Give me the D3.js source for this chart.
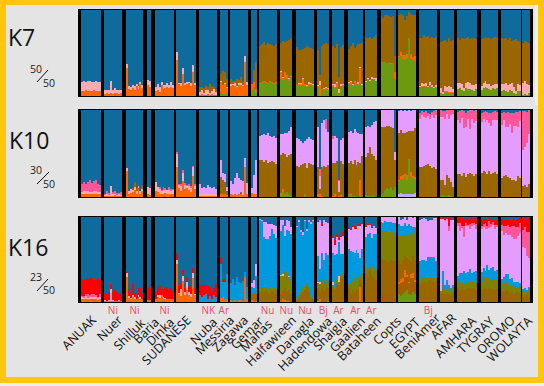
<!DOCTYPE html>
<html><head><meta charset="utf-8">
<script src="https://cdn.jsdelivr.net/npm/d3@7/dist/d3.min.js"></script>
<style>html,body{margin:0;padding:0;background:#eee;overflow:hidden}svg{display:block}text{font-family:"Open Sans",sans-serif}</style>
</head><body><svg id="c" width="544" height="386"></svg>
<script>
// ---------- categories ----------
const populations=["ANUAK","Nuer","Shilluk","Baria","Dinka","SUDANESE","Nuba","Messiria","Zagawa","Gemar","Mahas","Halfawieen","Danagla","Hadendowa","Shaigia","Gaalien","Bataheen","Copts","EGYPT","BeniAmer","AFAR","AMHARA","TYGRAY","OROMO","WOLAYTA"];
const sampleColumns=[10,9,9,2,10,10,9,4,9,3,9,6,9,6,6,8,6,8,9,9,7,10,9,10,4];
const groupTags=["","Ni","Ni","","Ni","","NK","Ar","","","Nu","Nu","Nu","Bj","Ar","Ar","Ar","","","Bj","","","","",""];
const panelNames=["K7","K10","K16"];
const panelRatios=[["50","50"],["30","50"],["23","50"]];
// ---------- K7 (percent of each individual) ----------
const k7Green={Messiria:[3,2,2,3],Gemar:[6,10,4],Mahas:[14,15,16,15,14,16,15,14,15],Halfawieen:[20,19,21,20,18,22],Danagla:[12,13,12,13,12,11,13,12,12],Hadendowa:[10,0,7,6,8,7],Shaigia:[10,9,11,3,10,12],Gaalien:[14,13,12,15,12,13,14,12],Bataheen:[16,19,18,20,19,18],Copts:[38,40,39,38,39,37,38,20],EGYPT:[45,47,43,42,44,68,43,42,41],BeniAmer:[10,11,12,11,10,12,11,9,10],AFAR:[3,2,4,5,4,3,4],AMHARA:[8,9,7,6,9,8,8,7,6,8],TYGRAY:[7,9,10,9,8,7,9,8,9],OROMO:[6,7,6,5,7,6,3,2,6,6],WOLAYTA:[1,2,1,3]};
const k7Orange={ANUAK:[6,6,7,6,6,6,7,6,6,6],Nuer:[2,3,2,3,2,3,3,2,3],Shilluk:[33,8,7,9,7,12,8,14,9],Baria:[13,10],Dinka:[6,7,5,13,8,9,10,9,11,9],SUDANESE:[42,14,12,26,13,14,15,12,28,13],Nuba:[1,2,1,1,2,1,2,1,1],Messiria:[13,11,12,6],Zagawa:[12,13,12,11,13,13,12,40,13],Gemar:[8,6,4],Mahas:[1,1,1,1,1,1,1,1,1],Halfawieen:[8,2,7,4,2,1],Danagla:[1,1,2,7,2,1,1,2,1],Hadendowa:[2,13,1,2,1,1],Shaigia:[3,2,4,1,2,1],Gaalien:[1,3,1,2,3,1,19,1],Bataheen:[0,1,0,0,1,0],Copts:[1,0,0,0,0,1,0,8],EGYPT:[2,4,5,6,5,0,6,3,5],BeniAmer:[0,1,0,1,0,1,0,0,1],AFAR:[1,0,2,1,1,2,1]};
const k7Pink={ANUAK:[10,11,9,11,11,10,9,11,10,10],Nuer:[5,4,5,14,5,6,4,5,4],Shilluk:[4,4,3,4,5,2,4,2,4],Baria:[6,7],Dinka:[4,7,5,3,5,4,5,4,5,4],SUDANESE:[9,1,3,6,2,2,1,3,8,2],Nuba:[4,5,3,6,5,3,4,7,4],Messiria:[2,0,1,1],Zagawa:[2,1,3,1,2,2,1,7,3],Halfawieen:[1,1,0,1,1,0],Danagla:[0,1,1,1,0,1,2,1,1],Hadendowa:[1,4,0,1,2,1],Shaigia:[1,3,1,4,2,1],Gaalien:[1,1,1,1,0,2,1,1],Bataheen:[2,1,1,2,1,3],BeniAmer:[2,3,2,3,2,3,2,1,2],AFAR:[5,3,6,4,7,5,3],AMHARA:[7,6,7,3,6,8,7,6,7,6],TYGRAY:[5,6,7,5,6,5,4,6,5],OROMO:[8,7,9,8,7,9,8,4,8,7],WOLAYTA:[14,16,13,10]};
const k7Blue={Nuba:[90,89,91,88,90,86,88,89,92],Messiria:[74,71,72,80],Zagawa:[80,83,82,80,81,78,82,53,84],Gemar:[88,70,61],Mahas:[42,40,37,41,38,40,41,42,40],Halfawieen:[38,36,37,36,35,33],Danagla:[43,47,46,45,44,42,43,44,45],Hadendowa:[46,76,42,39,38,40],Shaigia:[42,44,40,78,43,41],Gaalien:[45,42,38,44,42,40,39,38],Bataheen:[32,33,31,34,31,29],Copts:[7,9,6,6,7,8,7,53],EGYPT:[6,5,6,12,7,2,5,6,6],BeniAmer:[33,32,29,31,30,32,31,33,31],AFAR:[37,36,35,37,33,36,35],AMHARA:[33,35,32,34,33,31,34,33,32,34],TYGRAY:[34,33,31,33,32,34,33,31,33],OROMO:[33,34,32,35,33,36,35,34,36,37],WOLAYTA:[38,36,37,38]};
// ---------- K10 ----------
const k10Violet={EGYPT:[4,5,3,4,3,4,3,4,5]};
const k10Green={Halfawieen:[1,6,2,6,3,1],Danagla:[0,0,0,0,3,0,0,0,0],Gaalien:[3,2,1,1,1,0,1,0],Bataheen:[2,1,1,1,1,0],Copts:[3,3,8,10,9,11,8,12],EGYPT:[14,16,18,20,17,40,20,18,15],AFAR:[1,2,1,1,2,1,0]};
const k10Orange={ANUAK:[3,3,4,3,3,3,4,3,3,3],Nuer:[1,1,1,1,1,2,1,1,1],Shilluk:[30,4,5,6,8,4,10,3,7],Baria:[3,2],Dinka:[7,6,3,4,3,5,3,4,3,4],SUDANESE:[34,10,7,18,9,10,8,6,24,9],Nuba:[1,1,1,1,1,1,1,1,1],Messiria:[3,4,3,2],Zagawa:[3,2,3,2,3,4,2,35,3],Gemar:[5,4,3],Halfawieen:[4,3,1,0,0,0],Hadendowa:[3,4,1,0,0,0],Shaigia:[1,3,0,1,2,0],Gaalien:[1,1,0,0,0,0,18,0],EGYPT:[2,3,4,3,5,0,6,2,3]};
const k10Pink={ANUAK:[3,4,3,4,3,3,3,4,3,3],Nuer:[1,2,1,12,2,2,1,2,1],Shilluk:[3,3,4,2,3,3,3,4,2],Baria:[9,8],Dinka:[10,5,6,3,5,3,5,4,4,4],SUDANESE:[16,4,6,10,5,3,5,4,10,4],Nuba:[3,3,2,4,3,2,3,3,2]};
const k10Brown={Shilluk:[0,0,0,2,6,3,0,0,4],Messiria:[20,15,14,5],Zagawa:[0,0,0,0,0,2,0,0,0],Mahas:[42,43,40,42,39,40,41,40,38],Halfawieen:[43,42,46,40,45,49],Danagla:[36,34,37,38,36,33,39,38,37],Hadendowa:[32,5,33,36,35,37],Shaigia:[38,36,41,5,39,38],Gaalien:[35,38,37,41,36,40,20,47],Bataheen:[44,50,56,48,46,42],Copts:[77,78,72,72,73,70,71,30],EGYPT:[54,53,48,46,50,32,47,52,56],BeniAmer:[34,35,36,37,38,36,33,35,32],AFAR:[18,17,13,24,20,16,12],AMHARA:[26,27,24,28,23,26,28,27,24,26],TYGRAY:[28,30,29,26,30,27,28,29,26],OROMO:[22,24,25,23,22,20,19,18,24,22],WOLAYTA:[13,14,12,15]};
const k10Hot={ANUAK:[9,10,8,10,13,10,11,12,9,8],Nuer:[2,4,3,0,3,3,3,2,4],Dinka:[0,0,2,1,3,2,0,3,2,1],SUDANESE:[2,1,2,3,2,1,2,3,2,2],Hadendowa:[0,8,0,0,12,0],Shaigia:[3,0,0,2,0,0],BeniAmer:[7,5,6,8,4,5,4,8,6],AFAR:[8,7,9,5,10,6,5],AMHARA:[10,14,9,20,17,9,22,10,14,13],TYGRAY:[11,8,13,10,12,14,9,10,9],OROMO:[14,10,17,18,13,22,15,16,18,12],WOLAYTA:[45,42,36,28]};
const k10Blue={Nuba:[85,90,88,90,86,88,90,88,91],Messiria:[58,72,74,88],Zagawa:[82,85,78,72,78,80,82,55,84],Gemar:[90,75,58],Mahas:[30,29,28,29,27,30,31,30,32],Halfawieen:[28,28,27,26,24,20],Danagla:[32,33,36,38,36,33,31,33,34],Hadendowa:[20,68,15,12,10,25],Shaigia:[30,30,32,80,34,32],Gaalien:[25,24,26,22,25,26,28,28],Bataheen:[20,18,19,17,14,13],Copts:[0,0,0,0,0,0,0,48],EGYPT:[1,0,1,0,1,0,1,0,0],BeniAmer:[3,1,2,1,3,5,2,1,0],AFAR:[0,1,1,0,0,0,0],AMHARA:[2,1,0,1,3,1,0,0,1,0],TYGRAY:[3,2,1,2,3,4,2,1,2],OROMO:[3,2,3,2,3,4,3,2,2,1],WOLAYTA:[1,1,2,0]};
// ---------- K16 ----------
const k16Green={EGYPT:[9,7,10,12,14,10,8,12,9]};
const k16Rust={Copts:[10,9,8,10,11,9,10,3],EGYPT:[12,15,14,18,15,12,20,16,14]};
const k16Orange={ANUAK:[3,3,4,3,3,4,3,3,2,3],Nuer:[1,1,1,1,1,1,1,1,1],Shilluk:[30,5,4,6,4,3,6,4,3],Baria:[2,2],Dinka:[3,6,5,8,4,3,4,3,4,3],SUDANESE:[45,10,7,25,8,14,8,6,28,8],Messiria:[5,6,4,3],Zagawa:[2,1,2,1,2,2,1,30,3],Gemar:[2,1,1],Halfawieen:[1,3,2,1,1,0],Hadendowa:[1,3,0,0,0,1],Gaalien:[0,0,0,0,0,0,18,0],EGYPT:[3,5,4,8,3,2,5,6,3]};
const k16Brown={Gemar:[8,10,8],Mahas:[12,13,13,14,11,10,12,13,10],Halfawieen:[8,10,14,12,13,9],Danagla:[2,5,8,12,14,18,12,5,3],Hadendowa:[15,10,16,14,18,16],Shaigia:[18,15,22,20,28,30],Gaalien:[16,10,14,12,15,14,8,22],Bataheen:[34,30,38,32,28,26],Copts:[40,42,42,38,36,40,38,45],EGYPT:[26,18,22,16,20,26,14,20,24],BeniAmer:[20,22,24,22,23,26,24,22,24],AFAR:[10,11,9,12,10,8,12],AMHARA:[16,14,18,14,15,16,17,15,16,14],TYGRAY:[15,15,16,14,17,15,15,14,15],OROMO:[13,12,14,13,11,12,10,13,12,11],WOLAYTA:[8,7,9,6]};
const k16Olive={Mahas:[4,4,5,4,3,6,4,3,5],Halfawieen:[22,18,20,22,16,16],Danagla:[0,3,4,5,6,4,6,2,0],Hadendowa:[6,8,10,8,8,8],Shaigia:[2,2,4,3,3,3],Gaalien:[6,12,10,16,8,14,6,12],Bataheen:[6,8,5,8,10,12],Copts:[32,31,34,34,35,33,34,30],EGYPT:[28,33,29,25,26,30,32,26,32],BeniAmer:[6,6,5,6,5,3,5,6,4],AFAR:[2,8,6,2,8,4,6],AMHARA:[7,8,6,8,7,9,7,9,7,8],TYGRAY:[10,13,11,14,12,12,11,13,12],OROMO:[8,9,10,8,9,7,8,5,4,8],WOLAYTA:[5,6,4,8]};
const k16Pink={ANUAK:[3,2,3,2,3,2,3,3,3,3],Nuer:[1,0,1,14,1,0,0,1,0],Shilluk:[4,2,1,2,2,1,2,2,1],Dinka:[1,2,3,0,2,2,0,1,0,1],SUDANESE:[4,1,8,6,4,10,4,3,6,1],Halfawieen:[1,2,0,0,1,0],Hadendowa:[2,3,0,0,0,0],Shaigia:[3,0,0,8,0,0]};
const k16Cyan={Nuba:[8,6,8,9,3,7,3,8,6],Messiria:[40,18,20,30],Zagawa:[20,26,18,28,22,20,24,5,15],Gemar:[8,6,22],Mahas:[80,78,58,56,60,62,70,64,60],Halfawieen:[52,58,42,50,52,55],Danagla:[86,86,70,62,75,62,76,85,92],Hadendowa:[30,15,32,28,32,30],Shaigia:[35,38,30,40,25,24],Gaalien:[40,38,35,30,38,30,20,28],Bataheen:[36,42,38,35,42,42],Copts:[12,11,11,12,12,12,11,15],EGYPT:[14,12,10,14,12,12,10,8,6],BeniAmer:[22,22,20,20,25,24,24,25,20],AFAR:[1,18,5,12,2,4,2],AMHARA:[8,12,10,14,12,10,15,10,12,14],TYGRAY:[10,12,9,15,9,13,15,10,11],OROMO:[6,8,9,12,7,9,6,5,8,3],WOLAYTA:[2,3,1,4]};
const k16Hot={ANUAK:[1,2,3,4,2,3,4,2,1,3],AFAR:[0,0,1,0,6,1,0],AMHARA:[4,10,2,14,3,2,6,3,2,6],TYGRAY:[3,4,7,3,8,4,3,5,3],OROMO:[7,10,8,12,9,14,16,14,10,12],WOLAYTA:[20,24,28,30]};
const k16Red={ANUAK:[20,19,17,18,20,21,16,18,22,17],Nuer:[9,10,9,6,10,13,11,9,10],Shilluk:[3,8,6,13,5,3,8,10,7],Baria:[16,17],Dinka:[8,10,12,7,9,12,14,10,12,9],SUDANESE:[9,8,6,7,5,6,7,8,6,7],Nuba:[12,14,12,11,16,10,9,8,15],Messiria:[8,3,3,0],Hadendowa:[1,0,3,1,0,0],Shaigia:[3,6,3,2,3,4],Gaalien:[2,1,2,3,1,2,3,1],Bataheen:[2,1,1,1,1,1],AFAR:[1,2,2,1,10,3,1],AMHARA:[6,6,10,8,5,8,6,6,5,7],TYGRAY:[8,6,5,8,4,6,4,6,5],OROMO:[7,8,9,6,8,7,8,9,10,6],WOLAYTA:[14,12,16,18]};
const k16Blue={Gemar:[78,74,55],Mahas:[2,4,6,6,8,8,8,9,10],Halfawieen:[3,4,10,4,5,12],Danagla:[10,4,15,18,4,14,4,6,4],Hadendowa:[5,4,8,3,6,7],Shaigia:[22,27,20,25,21,18],Gaalien:[12,14,10,11,13,8,8,7],Bataheen:[10,8,8,12,10,12],Copts:[0,0,0,0,0,0,0,0],EGYPT:[0,3,2,0,3,0,0,1,0],BeniAmer:[3,2,1,2,5,3,4,1,1],AFAR:[1,0,2,1,0,0,3],AMHARA:[1,1,1,2,2,1,2,1,2,1],TYGRAY:[3,2,2,3,1,2,2,3,4],OROMO:[2,3,2,3,4,3,2,3,2,1],WOLAYTA:[1,0,2,0]};

// ---------- layout and style (not data) ----------
const colors={green:"#6b9a10",rust:"#a85c00",orange:"#ff6600",pink:"#fbaab2",brown:"#996600",olive:"#808000",violet:"#c4a8f4",lilac:"#e59cff",hot:"#ff5599",red:"#ff0000",cyan:"#0099dd",blue:"#0f6b9b"};
const gapUnits=[1.7,2,2,1.7,1,1.7,1.4,1.4,1.4,1,2,2,1.7,1.7,1.7,1,1.7,1,1.7,1.4,1.7,2,1.4,0.7];
const labelEnds=[[97,321],[123,321],[146,324],[160,323],[175,323],[192,321],[218,323],[235,321],[249,321],[264,322],[273,325],[297,321],[315,322],[333,322],[348,322],[366,322],[382,322],[402,322],[421,323],[441,319],[457,319],[477,322],[495,322],[516,321],[533,322]];
const panels=[
 {y:[96,10],filler:"brown",layers:[["green",k7Green],["orange",k7Orange],["pink",k7Pink],["brown",{}],["blue",k7Blue]],title:[8,46],ratio:[30,73,43,87,37,82,48,70]},
 {y:[197,110],filler:"lilac",layers:[["violet",k10Violet],["green",k10Green],["orange",k10Orange],["pink",k10Pink],["brown",k10Brown],["lilac",{}],["hot",k10Hot],["blue",k10Blue]],title:[9,149],ratio:[30,174,43,188,37,184,49,172]},
 {y:[302,217],filler:"lilac",layers:[["green",k16Green],["rust",k16Rust],["orange",k16Orange],["brown",k16Brown],["olive",k16Olive],["pink",k16Pink],["cyan",k16Cyan],["lilac",{}],["hot",k16Hot],["red",k16Red],["blue",k16Blue]],title:[8,256],ratio:[30,281,43,294,37,291,48,279]}
];

const svg=d3.select("#c");
svg.append("rect").attr("width",544).attr("height",386).attr("fill","#eeeeee");
svg.append("rect").attr("width",544).attr("height",383).attr("fill","#ffc60b");
svg.append("rect").attr("x",6).attr("y",5).attr("width",532).attr("height",372).attr("fill","#e4e4e4");
svg.append("rect").attr("x",535).attr("y",5).attr("width",3).attr("height",100).attr("fill","#f0f0f0");

// position of each population along a common slot axis
const popStart=[];let slot=0;
sampleColumns.forEach((c,i)=>{popStart.push(slot);slot+=c+(gapUnits[i]||0);});
const x=d3.scaleLinear().domain([0,slot]).range([81,530]);

panels.forEach((p,pi)=>{
 const y=d3.scaleLinear().domain([0,100]).range(p.y).clamp(true);
 const keys=p.layers.map(l=>l[0]);
 const rows=[];
 populations.forEach((pop,pIdx)=>{
  for(let j=0;j<sampleColumns[pIdx];j++){
   const r={slot:popStart[pIdx]+j};let sum=0;
   p.layers.forEach(([k,src])=>{const v=(src[pop]&&src[pop][j])||0;r[k]=v;sum+=v;});
   const blueGiven=p.layers.find(l=>l[0]==="blue")[1][pop];
   const rest=Math.max(0,100-sum);
   if(blueGiven) r[p.filler]+=rest; else r.blue+=rest;
   rows.push(r);
  }
 });
 const series=d3.stack().keys(keys)(rows);
 const g=svg.append("g");
 g.append("rect").attr("x",78).attr("y",p.y[1]-1).attr("width",455).attr("height",p.y[0]-p.y[1]+2).attr("fill","#000");
 g.selectAll("g").data(series).join("g").attr("fill",d=>colors[d.key])
  .selectAll("rect").data(d=>d).join("rect")
  .attr("shape-rendering","crispEdges")
  .attr("x",d=>x(d.data.slot)).attr("width",d=>x(d.data.slot+1)-x(d.data.slot))
  .attr("y",d=>y(d[1])).attr("height",d=>y(d[0])-y(d[1]));
 // title and ratio
 svg.append("text").attr("x",p.title[0]).attr("y",p.title[1]).attr("font-size",23).attr("fill","#111").text(panelNames[pi]);
 const q=p.ratio;
 svg.append("text").attr("x",q[0]).attr("y",q[1]).attr("font-size",10.5).attr("fill","#222").text(panelRatios[pi][0]);
 svg.append("text").attr("x",q[2]).attr("y",q[3]).attr("font-size",10.5).attr("fill","#222").text(panelRatios[pi][1]);
 svg.append("line").attr("x1",q[4]).attr("y1",q[5]).attr("x2",q[6]).attr("y2",q[7]).attr("stroke","#111").attr("stroke-width",1);
});

// tags and rotated names
svg.append("g").selectAll("text").data(populations).join("text")
 .attr("x",(d,i)=>x(popStart[i]+sampleColumns[i]/2)).attr("y",314)
 .attr("text-anchor","middle").attr("font-size",10).attr("fill","#f04a68")
 .text((d,i)=>groupTags[i]);
svg.append("g").selectAll("text").data(populations).join("text")
 .attr("transform",(d,i)=>`translate(${labelEnds[i][0]},${labelEnds[i][1]}) rotate(-45)`)
 .attr("text-anchor","end").attr("font-size",12.5).attr("fill","#111")
 .text(d=>d);
</script></body></html>
